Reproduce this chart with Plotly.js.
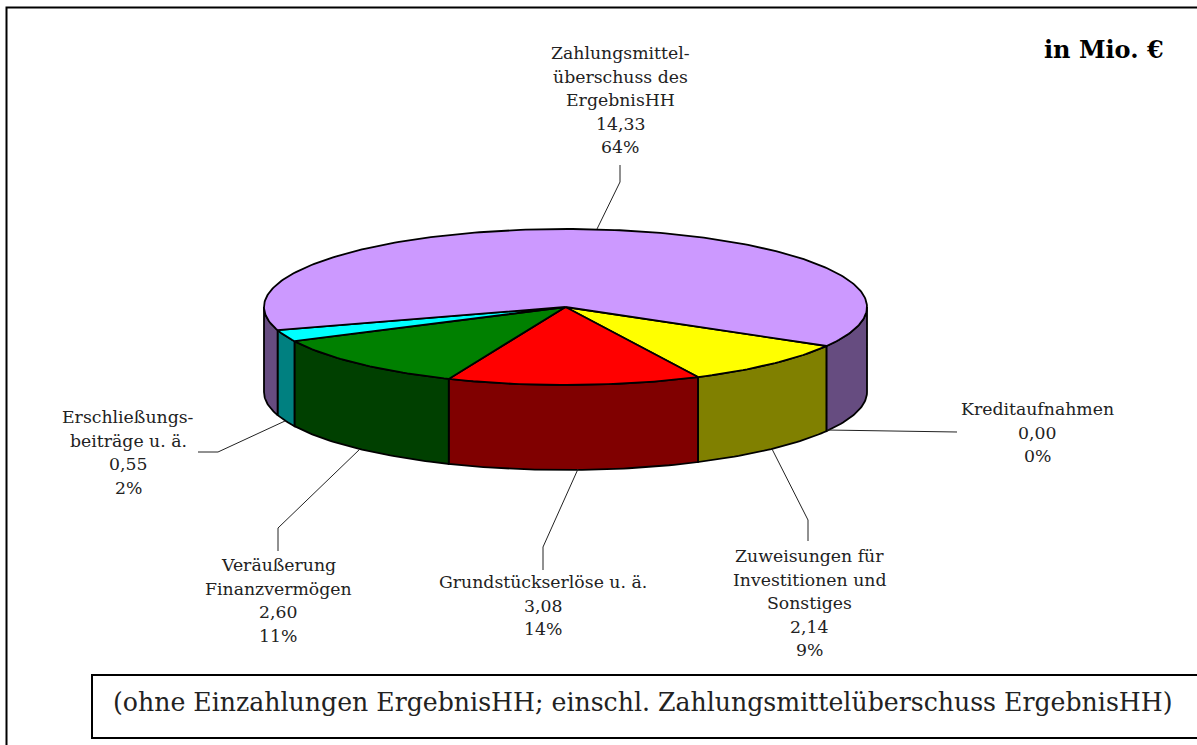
<!DOCTYPE html>
<html>
<head>
<meta charset="utf-8">
<script src="https://cdn.plot.ly/plotly-3.0.1.min.js"></script>
<style>html,body{margin:0;padding:0;background:#fff;overflow:hidden}#chart{width:1197px;height:745px}</style>
</head>
<body>
<div id="chart"></div>
<script>
// Data, clockwise from the start of the first slice
var categories = ["Kreditaufnahmen", "Zuweisungen für|Investitionen und|Sonstiges", "Grundstückserlöse u. ä.", "Veräußerung|Finanzvermögen", "Erschließungs-|beiträge u. ä.", "Zahlungsmittel-|überschuss des|ErgebnisHH"];
var values = [0.00, 2.14, 3.08, 2.60, 0.55, 14.33];
var valueLabels = ["0,00", "2,14", "3,08", "2,60", "0,55", "14,33"];
var percentLabels = ["0%", "9%", "14%", "11%", "2%", "64%"];
var topColors = ["#FFFF00", "#FFFF00", "#FF0000", "#008000", "#00FFFF", "#CC99FF"];
var sideColors = ["#808000", "#808000", "#800000", "#004000", "#008080", "#664C80"];

// Placement of labels (centre x, first line y) and leader lines
var labelX = [1037, 809, 543, 278, 128, 620];
var labelY = [409, 556, 582, 565, 417, 53];
var leaderX = [[957, 827], [808, 808, 772], [543, 543, 578], [278, 278, 360], [198, 218, 285], [620, 620, 597]];
var leaderY = [[432, 430], [541, 520, 449], [570, 547, 469], [551, 528, 449], [452, 452, 421], [165, 182, 229]];

// Pie projection
var cx = 565.5, cy = 307, rx = 301.5, ry = 78, depth = 85, startDeg = 30;
var lineH = 23.5, labelFont = "DejaVu Serif", labelSize = 17.3, edge = 1.8;

function pt(deg) {
  var t = deg * Math.PI / 180;
  return [cx + rx * Math.cos(t), cy + ry * Math.sin(t)];
}
function arc(a, b) {
  var out = [], n = Math.max(2, Math.ceil(Math.abs(b - a)));
  for (var i = 0; i <= n; i++) out.push(pt(a + (b - a) * i / n));
  return out;
}
var total = values.reduce(function (s, v) { return s + v; }, 0);
var traces = [];
var angle = startDeg;
var spans = values.map(function (v) {
  var a = angle; angle += v / total * 360; return [a, angle];
});

// side walls: the parts of each slice on the front half of the ellipse
spans.forEach(function (s, i) {
  [0, 360].forEach(function (off) {
    var a = Math.max(s[0] - off, 0), b = Math.min(s[1] - off, 180);
    if (b <= a) return;
    var top = arc(a, b), bottom = top.slice().reverse().map(function (p) { return [p[0], p[1] + depth]; });
    var poly = top.concat(bottom); poly.push(top[0]);
    traces.push({
      type: "scatter", mode: "lines", fill: "toself", fillcolor: sideColors[i],
      x: poly.map(function (p) { return p[0]; }), y: poly.map(function (p) { return p[1]; }),
      line: { color: "#000", width: edge }, hoverinfo: "skip", showlegend: false
    });
  });
});
// top faces
spans.forEach(function (s, i) {
  if (values[i] === 0) return;
  var poly = [[cx, cy]].concat(arc(s[0], s[1])); poly.push([cx, cy]);
  traces.push({
    type: "scatter", mode: "lines", fill: "toself", fillcolor: topColors[i],
    x: poly.map(function (p) { return p[0]; }), y: poly.map(function (p) { return p[1]; }),
    line: { color: "#000", width: edge }, name: categories[i].replace(/\|/g, " "), showlegend: false
  });
});
// leader lines
leaderX.forEach(function (xs, i) {
  traces.push({
    type: "scatter", mode: "lines", x: xs, y: leaderY[i],
    line: { color: "#222", width: 1 }, hoverinfo: "skip", showlegend: false
  });
});

var annotations = [];
function addText(x, y, text, anchor, size) {
  annotations.push({
    xref: "x", yref: "y", x: x, y: y, text: text, showarrow: false, xanchor: anchor, yanchor: "middle",
    font: { family: labelFont, size: size, color: "#222" }
  });
}
categories.forEach(function (c, i) {
  var lines = c.split("|").concat([valueLabels[i], percentLabels[i]]);
  lines.forEach(function (l, j) { addText(labelX[i], labelY[i] + j * lineH, l, "center", labelSize); });
});
addText(1166, 49, "<b>in Mio. €</b>", "right", 24);
annotations[annotations.length - 1].font.color = "#000";
addText(642.5, 702, "(ohne Einzahlungen ErgebnisHH; einschl. Zahlungsmittelüberschuss ErgebnisHH)", "center", 25.2);

var layout = {
  width: 1197, height: 745,
  margin: { l: 0, r: 0, t: 0, b: 0 },
  paper_bgcolor: "#fff", plot_bgcolor: "#fff",
  xaxis: { range: [0, 1197], visible: false, fixedrange: true },
  yaxis: { range: [745, 0], visible: false, fixedrange: true },
  showlegend: false,
  annotations: annotations,
  shapes: [
    { type: "rect", xref: "x", yref: "y", x0: 6.5, y0: 7.5, x1: 1210, y1: 760, line: { color: "#000", width: 2 }, layer: "below" },
    { type: "rect", xref: "x", yref: "y", x0: 92, y0: 675, x1: 1210, y1: 738, line: { color: "#000", width: 2 }, fillcolor: "#fff", layer: "below" }
  ]
};
Plotly.newPlot("chart", traces, layout, { displayModeBar: false, staticPlot: true });
</script>
</body>
</html>
